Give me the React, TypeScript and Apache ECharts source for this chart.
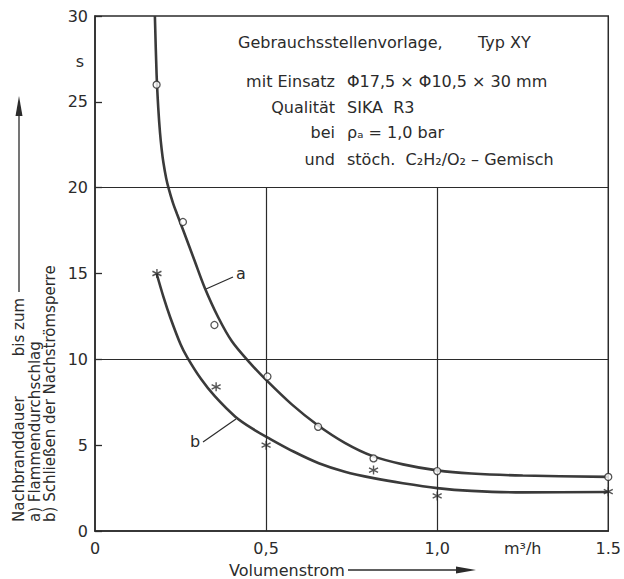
import React, { useEffect, useRef } from "react";
import * as echarts from "echarts";

// ---- data ----
// fitted curve a (Flammendurchschlag)
const curveAX = [0.175, 0.18, 0.185, 0.19, 0.195, 0.2, 0.208, 0.216, 0.228, 0.24, 0.26, 0.29, 0.32, 0.36, 0.4, 0.45, 0.5, 0.575, 0.65, 0.73, 0.81, 0.9, 1.0, 1.1, 1.25, 1.5];
const curveAY = [30, 26.6, 24.6, 23.2, 22.2, 21.45, 20.55, 19.9, 19.1, 18.45, 17.4, 15.8, 14.2, 12.45, 11.05, 9.85, 8.8, 7.375, 6.175, 5.135, 4.375, 3.88, 3.53, 3.35, 3.23, 3.155];
// fitted curve b (Schließen der Nachströmsperre)
const curveBX = [0.18, 0.2, 0.22, 0.25, 0.27, 0.31, 0.35, 0.41, 0.46, 0.51, 0.58, 0.654, 0.73, 0.814, 0.9, 1.0, 1.1, 1.25, 1.5];
const curveBY = [15.0, 13.64, 12.44, 10.88, 10.1, 8.85, 7.85, 6.66, 5.96, 5.385, 4.63, 3.95, 3.456, 3.08, 2.78, 2.5, 2.34, 2.25, 2.275];
// measured points a (circles)
const pointsAX = [0.18, 0.257, 0.349, 0.504, 0.652, 0.814, 1.0, 1.5];
const pointsAY = [26.0, 18.0, 12.0, 9.0, 6.07, 4.23, 3.49, 3.15];
// measured points b (asterisks)
const pointsBX = [0.181, 0.354, 0.5, 0.814, 1.0, 1.5];
const pointsBY = [15.0, 8.4, 5.0, 3.55, 2.04, 2.29];
// axis labels
const xTickLabels: Record<string, string> = {
  "0": "0",
  "0.5": "0,5",
  "1": "1,0",
  "1.25": "m³/h",
  "1.5": "1.5",
};
const yTickValues = [0, 5, 10, 15, 20, 25, 30];
const gridY = [10, 20];
const gridX = [0.5, 1.0];

const FONT = "'DejaVu Sans', 'Liberation Sans', sans-serif";
const INK = "#2b2b2b";

const zip = (xs: number[], ys: number[]) => xs.map((x, i) => [x, ys[i]]);

export default function App() {
  const ref = useRef<HTMLDivElement>(null);
  useEffect(() => {
    if (!ref.current) return;
    const chart = echarts.init(ref.current, undefined, { renderer: "svg" });
    const textStyle = (extra: any) => ({
      fontFamily: FONT,
      fontSize: 16,
      fill: INK,
      ...extra,
    });
    const option: any = {
      animation: false,
      backgroundColor: "#fff",
      grid: {
        left: 95,
        right: 13,
        top: 16,
        bottom: 48,
        show: true,
        borderColor: INK,
        borderWidth: 1.5,
        backgroundColor: "transparent",
      },
      xAxis: {
        type: "value",
        min: 0,
        max: 1.5,
        interval: 0.25,
        axisLine: { show: true, lineStyle: { color: INK, width: 1.5 } },
        axisTick: { show: false },
        splitLine: { show: false },
        axisLabel: {
          color: INK,
          fontFamily: FONT,
          fontSize: 16,
          margin: 9,
          formatter: (v: number) => xTickLabels[String(v)] ?? "",
        },
      },
      yAxis: {
        type: "value",
        min: 0,
        max: 30,
        interval: 5,
        axisLine: { show: true, lineStyle: { color: INK, width: 1.5 } },
        axisTick: { show: true, inside: true, length: 7, lineStyle: { color: INK, width: 1.3 } },
        splitLine: { show: false },
        axisLabel: {
          color: INK,
          fontFamily: FONT,
          fontSize: 16,
          margin: 7,
          formatter: (v: number) => (yTickValues.includes(v) ? String(v) : ""),
        },
      },
      series: [
        {
          type: "line",
          name: "grid",
          data: [],
          markLine: {
            silent: true,
            symbol: "none",
            label: { show: false },
            lineStyle: { color: INK, width: 1.2, type: "solid" },
            data: [
              ...gridY.map((y) => ({ yAxis: y })),
              ...gridX.map((x) => [{ coord: [x, 0] }, { coord: [x, 20] }]),
            ],
          },
        },
        {
          type: "line",
          name: "a",
          data: zip(curveAX, curveAY),
          smooth: 0.3,
          showSymbol: false,
          symbol: "none",
          lineStyle: { color: "#3a3a3a", width: 2.6 },
          z: 3,
        },
        {
          type: "line",
          name: "b",
          data: zip(curveBX, curveBY),
          smooth: 0.3,
          showSymbol: false,
          symbol: "none",
          lineStyle: { color: "#3a3a3a", width: 2.6 },
          z: 3,
        },
        {
          type: "scatter",
          name: "Messwerte a",
          data: zip(pointsAX, pointsAY),
          symbol: "circle",
          symbolSize: 7,
          itemStyle: { color: "#fff", borderColor: INK, borderWidth: 1.3 },
          z: 5,
        },
        {
          type: "scatter",
          name: "Messwerte b",
          data: zip(pointsBX, pointsBY),
          symbol: "path://M5,0L5,10M0.67,2.5L9.33,7.5M0.67,7.5L9.33,2.5",
          symbolSize: 9,
          itemStyle: { color: "transparent", borderColor: INK, borderWidth: 1.4 },
          z: 5,
        },
      ],
      graphic: [
        // unit of y axis
        { type: "text", x: 80, y: 61, style: textStyle({ text: "s", textAlign: "center", textVerticalAlign: "middle" }) },
        // info block
        { type: "text", x: 238, y: 42, style: textStyle({ text: "Gebrauchsstellenvorlage,", textAlign: "left", textVerticalAlign: "middle" }) },
        { type: "text", x: 478, y: 42, style: textStyle({ text: "Typ XY", textAlign: "left", textVerticalAlign: "middle" }) },
        { type: "text", x: 335, y: 81, style: textStyle({ text: "mit Einsatz", textAlign: "right", textVerticalAlign: "middle" }) },
        { type: "text", x: 347, y: 81, style: textStyle({ text: "Φ17,5 × Φ10,5 × 30 mm", textAlign: "left", textVerticalAlign: "middle" }) },
        { type: "text", x: 335, y: 107, style: textStyle({ text: "Qualität", textAlign: "right", textVerticalAlign: "middle" }) },
        { type: "text", x: 347, y: 107, style: textStyle({ text: "SIKA  R3", textAlign: "left", textVerticalAlign: "middle" }) },
        { type: "text", x: 335, y: 132, style: textStyle({ text: "bei", textAlign: "right", textVerticalAlign: "middle" }) },
        { type: "text", x: 347, y: 132, style: textStyle({ text: "ρₐ = 1,0 bar", textAlign: "left", textVerticalAlign: "middle" }) },
        { type: "text", x: 335, y: 159, style: textStyle({ text: "und", textAlign: "right", textVerticalAlign: "middle" }) },
        { type: "text", x: 347, y: 159, style: textStyle({ text: "stöch.  C₂H₂/O₂ – Gemisch", textAlign: "left", textVerticalAlign: "middle" }) },
        // curve labels with leader lines
        { type: "text", x: 241, y: 273, style: textStyle({ text: "a", textAlign: "center", textVerticalAlign: "middle" }) },
        { type: "line", shape: { x1: 206, y1: 289, x2: 233, y2: 277 }, style: { stroke: INK, lineWidth: 1.2 } },
        { type: "text", x: 195, y: 441, style: textStyle({ text: "b", textAlign: "center", textVerticalAlign: "middle" }) },
        { type: "line", shape: { x1: 203, y1: 442, x2: 236, y2: 419 }, style: { stroke: INK, lineWidth: 1.2 } },
        // y axis title (rotated)
        { type: "text", x: 19, y: 522, rotation: Math.PI / 2, style: textStyle({ text: "Nachbranddauer", textAlign: "left", textVerticalAlign: "middle", fontSize: 15 }) },
        { type: "text", x: 19, y: 298, rotation: Math.PI / 2, style: textStyle({ text: "bis zum", textAlign: "right", textVerticalAlign: "middle", fontSize: 15 }) },
        { type: "line", shape: { x1: 19, y1: 292, x2: 19, y2: 112 }, style: { stroke: INK, lineWidth: 1.3 } },
        { type: "polygon", shape: { points: [[19, 96], [15.5, 116], [22.5, 116]] }, style: { fill: INK } },
        { type: "text", x: 35, y: 522, rotation: Math.PI / 2, style: textStyle({ text: "a) Flammendurchschlag", textAlign: "left", textVerticalAlign: "middle", fontSize: 15 }) },
        { type: "text", x: 50, y: 522, rotation: Math.PI / 2, style: textStyle({ text: "b) Schließen der Nachströmsperre", textAlign: "left", textVerticalAlign: "middle", fontSize: 15 }) },
        // x axis title
        { type: "text", x: 229, y: 570, style: textStyle({ text: "Volumenstrom", textAlign: "left", textVerticalAlign: "middle" }) },
        { type: "line", shape: { x1: 348, y1: 570, x2: 460, y2: 570 }, style: { stroke: INK, lineWidth: 1.3 } },
        { type: "polygon", shape: { points: [[476, 570], [456, 566.5], [456, 573.5]] }, style: { fill: INK } },
      ],
    };
    chart.setOption(option);
    return () => chart.dispose();
  }, []);
  return (
    <div
      ref={ref}
      style={{ position: "fixed", left: 0, top: 0, width: 624, height: 579, background: "#fff" }}
    />
  );
}
